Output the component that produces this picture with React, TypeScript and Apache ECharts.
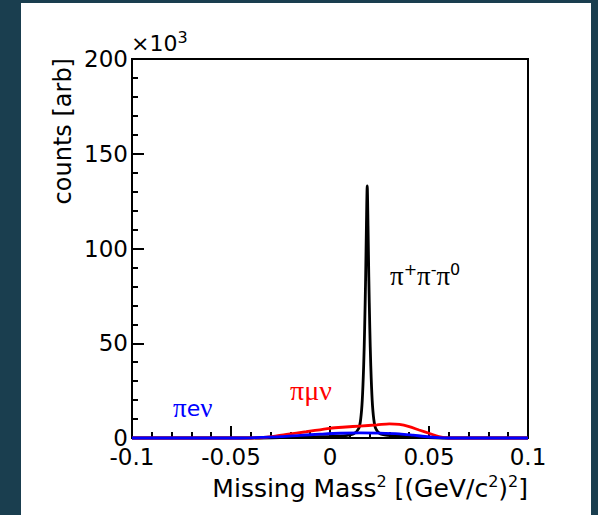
import React, { useEffect, useRef } from "react";
import * as echarts from "echarts";

const xTickLabels = ["-0.1", "-0.05", "0", "0.05", "0.1"];
const yTickLabels = ["0", "50", "100", "150", "200"];

// pi+ pi- pi0 (black), counts in units of 10^3
const pi3X = [-0.1, -0.04, -0.02, 0, 0.008, 0.012, 0.0145, 0.0155, 0.0163, 0.017, 0.0175, 0.018, 0.0184, 0.0188, 0.0192, 0.0196, 0.0201, 0.0206, 0.0213, 0.0221, 0.0231, 0.0255, 0.032, 0.045, 0.06, 0.1];
const pi3Y = [0, 0, 0.4, 0.9, 1.3, 2.2, 5, 10, 20, 38, 58, 85, 112, 133, 112, 85, 58, 38, 20, 10, 5, 2.2, 1.2, 0.4, 0, 0];

// pi mu nu (red)
const pimunuX = [-0.1, -0.04, -0.032, -0.022, -0.012, 0, 0.008, 0.015, 0.0237, 0.03, 0.035, 0.04, 0.045, 0.05, 0.055, 0.06, 0.1];
const pimunuY = [0, 0, 0.4, 1.9, 3.3, 5.1, 5.8, 6.3, 6.9, 7.5, 7.2, 6.0, 4.2, 2.5, 0.7, 0, 0];

// pi e nu (blue)
const pienuX = [-0.1, -0.045, -0.035, -0.025, -0.015, -0.005, 0.005, 0.015, 0.025, 0.035, 0.042, 0.048, 0.055, 0.06, 0.1];
const pienuY = [0, 0, 0.3, 0.7, 1.4, 2.0, 2.5, 2.7, 2.6, 2.2, 1.5, 0.8, 0.2, 0, 0];

const SANS = "DejaVu Sans";
const SERIF = "Liberation Serif";

function pairs(xs: number[], ys: number[]) {
  return xs.map((x, i) => [x, ys[i]]);
}

export default function App() {
  const ref = useRef<HTMLDivElement>(null);
  useEffect(() => {
    if (!ref.current) return;
    const chart = echarts.init(ref.current, undefined, { renderer: "svg" });
    const lineSeries = (name: string, data: number[][], color: string) => ({
      name,
      type: "line",
      data,
      showSymbol: false,
      symbol: "none",
      smooth: 0.3,
      clip: false,
      silent: true,
      lineStyle: { color, width: 2.8 },
    });
    const axisCommon = {
      axisLine: { show: true, onZero: false, lineStyle: { color: "#000", width: 2 } },
      axisTick: { show: true, inside: true, length: 12, lineStyle: { color: "#000", width: 2 } },
      minorTick: { show: true, splitNumber: 5, length: 6, lineStyle: { color: "#000", width: 2 } },
      splitLine: { show: false },
    };
    chart.setOption({
      animation: false,
      backgroundColor: "transparent",
      grid: {
        left: 132,
        top: 59,
        width: 396,
        height: 379,
        show: true,
        borderColor: "#000",
        borderWidth: 2,
        containLabel: false,
      },
      xAxis: {
        type: "value",
        min: -0.1,
        max: 0.1,
        interval: 0.05,
        ...axisCommon,
        axisLabel: {
          color: "#000",
          fontFamily: SANS,
          fontSize: 23,
          margin: 7,
          formatter: (v: number) => xTickLabels[Math.round((v + 0.1) / 0.05)] ?? String(v),
        },
      },
      yAxis: {
        type: "value",
        min: 0,
        max: 200,
        interval: 50,
        ...axisCommon,
        axisLabel: {
          color: "#000",
          fontFamily: SANS,
          fontSize: 23,
          margin: 4,
          formatter: (v: number) => yTickLabels[Math.round(v / 50)] ?? String(v),
        },
      },
      series: [
        lineSeries("pi+pi-pi0", pairs(pi3X, pi3Y), "#000000"),
        lineSeries("pimunu", pairs(pimunuX, pimunuY), "#ff0000"),
        lineSeries("pienu", pairs(pienuX, pienuY), "#0000ff"),
      ],
      graphic: [
        {
          type: "text",
          x: 63,
          y: 58,
          rotation: Math.PI / 2,
          style: {
            text: "counts [arb]",
            fontFamily: SANS,
            fontSize: 24,
            fill: "#000",
            align: "right",
            verticalAlign: "middle",
          },
        },
        {
          type: "text",
          x: 528,
          y: 488,
          style: {
            text: "{n|Missing Mass}{s|2}{n| [(GeV/c}{s|2}{n|)}{s|2}{n|]}",
            align: "right",
            verticalAlign: "middle",
            fill: "#000",
            rich: {
              n: { fontFamily: SANS, fontSize: 25, lineHeight: 29, fill: "#000" },
              s: { fontFamily: SANS, fontSize: 16, lineHeight: 16, verticalAlign: "top", fill: "#000" },
            },
          },
        },
        {
          type: "text",
          x: 131,
          y: 43,
          style: {
            text: "{n|×10}{s|3}",
            align: "left",
            verticalAlign: "middle",
            fill: "#000",
            rich: {
              n: { fontFamily: SANS, fontSize: 22, lineHeight: 28, fill: "#000" },
              s: { fontFamily: SANS, fontSize: 16, lineHeight: 16, verticalAlign: "top", fill: "#000" },
            },
          },
        },
        {
          type: "text",
          x: 390,
          y: 276,
          style: {
            text: "{g|π}{s|+}{g|π}{s|-}{g|π}{s|0}",
            align: "left",
            verticalAlign: "middle",
            fill: "#000",
            rich: {
              g: { fontFamily: SERIF, fontSize: 27, lineHeight: 30, fill: "#000" },
              s: { fontFamily: SANS, fontSize: 16, lineHeight: 16, verticalAlign: "top", fill: "#000" },
            },
          },
        },
        {
          type: "text",
          x: 290,
          y: 390,
          style: {
            text: "πμν",
            fontFamily: SERIF,
            fontSize: 28,
            fill: "#ff0000",
            align: "left",
            verticalAlign: "middle",
          },
        },
        {
          type: "text",
          x: 173,
          y: 408,
          style: {
            text: "{g|π}{e|e}{g|ν}",
            align: "left",
            verticalAlign: "middle",
            fill: "#0000ff",
            rich: {
              g: { fontFamily: SERIF, fontSize: 27, fill: "#0000ff" },
              e: { fontFamily: SANS, fontSize: 22, fill: "#0000ff" },
            },
          },
        },
      ],
    });
    return () => chart.dispose();
  }, []);

  return (
    <div style={{ position: "absolute", left: 0, top: 0, width: 598, height: 515, background: "#1a3e4f", overflow: "hidden" }}>
      <div style={{ position: "absolute", left: 21, top: 3, width: 570, height: 512, background: "#ffffff" }} />
      <div ref={ref} style={{ position: "absolute", left: 0, top: 0, width: 598, height: 515 }} />
    </div>
  );
}
